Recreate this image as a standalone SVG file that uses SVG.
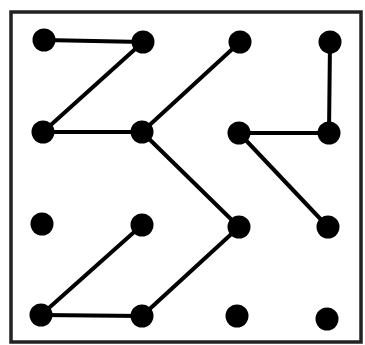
<svg xmlns="http://www.w3.org/2000/svg" width="365" height="345" viewBox="0 0 365 345">
<style>
.frame{fill:none;stroke:#222;stroke-width:3.5}
.edge{stroke:#000;stroke-width:4;stroke-linecap:round}
.dot{fill:#000}
</style>
<rect width="365" height="345" fill="#fff"/>
<rect class="frame" x="11" y="12" width="350" height="330"/>
<g id="connectors">
<line class="edge" x1="44" y1="40" x2="143" y2="42"/>
<line class="edge" x1="143" y1="42" x2="43" y2="132"/>
<line class="edge" x1="43" y1="132" x2="142" y2="132"/>
<line class="edge" x1="142" y1="132" x2="240" y2="42"/>
<line class="edge" x1="142" y1="132" x2="239" y2="227"/>
<line class="edge" x1="239" y1="227" x2="142" y2="316"/>
<line class="edge" x1="142" y1="316" x2="41" y2="315"/>
<line class="edge" x1="41" y1="315" x2="142" y2="225"/>
<line class="edge" x1="330" y1="42" x2="329" y2="133"/>
<line class="edge" x1="329" y1="133" x2="239" y2="133"/>
<line class="edge" x1="239" y1="133" x2="328" y2="227"/>
</g>
<g id="n00"><circle class="dot" cx="44" cy="40" r="11.5"/></g>
<g id="n10"><circle class="dot" cx="143" cy="42" r="11.5"/></g>
<g id="n20"><circle class="dot" cx="240" cy="42" r="11.5"/></g>
<g id="n30"><circle class="dot" cx="330" cy="42" r="11.5"/></g>
<g id="n01"><circle class="dot" cx="43" cy="132" r="11.5"/></g>
<g id="n11"><circle class="dot" cx="142" cy="132" r="11.5"/></g>
<g id="n21"><circle class="dot" cx="239" cy="133" r="11.5"/></g>
<g id="n31"><circle class="dot" cx="329" cy="133" r="11.5"/></g>
<g id="n02"><circle class="dot" cx="42" cy="224" r="11.5"/></g>
<g id="n12"><circle class="dot" cx="142" cy="225" r="11.5"/></g>
<g id="n22"><circle class="dot" cx="239" cy="227" r="11.5"/></g>
<g id="n32"><circle class="dot" cx="328" cy="227" r="11.5"/></g>
<g id="n03"><circle class="dot" cx="41" cy="315" r="11.5"/></g>
<g id="n13"><circle class="dot" cx="142" cy="316" r="11.5"/></g>
<g id="n23"><circle class="dot" cx="237" cy="316" r="11.5"/></g>
<g id="n33"><circle class="dot" cx="327" cy="319" r="11.5"/></g>
</svg>
